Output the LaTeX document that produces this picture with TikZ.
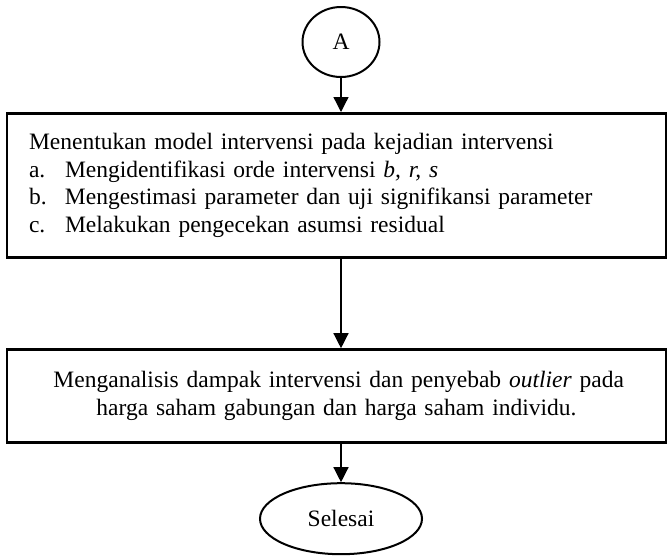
\documentclass[tikz,border=0pt]{standalone}
\usepackage{fontspec}
\setmainfont{Liberation Serif}
\usetikzlibrary{arrows.meta}
\usetikzlibrary{positioning}
\usetikzlibrary{shapes.geometric}

\tikzset{
  every node/.style={font=\fontsize{23.5}{27.7}\selectfont},
  terminal/.style={draw, ellipse, line width=2pt, inner sep=0pt},
  stepbox/.style={draw, rectangle, line width=2.7pt, minimum width=659pt, text width=615pt, inner sep=0pt},
  flow/.style={-{Triangle[length=15pt,width=15pt]}, line width=1.3pt}
}

\begin{document}
\begin{tikzpicture}[x=1pt, y=1pt]
  \useasboundingbox (0,0) rectangle (667,-555);

  \node (A) [terminal, minimum width=77pt, minimum height=70pt] at (341,-42) {A};

  \node (model) [stepbox, below=34pt of A, xshift=-4.5pt, minimum height=144pt, align=left] {%
    Menentukan model intervensi pada kejadian intervensi\\
    \makebox[36pt][l]{a.}Mengidentifikasi orde intervensi \textit{b, r, s}\\
    \makebox[36pt][l]{b.}Mengestimasi parameter dan uji signifikansi parameter\\
    \makebox[36pt][l]{c.}Melakukan pengecekan asumsi residual};

  \node (analisis) [stepbox, below=89.5pt of model, minimum height=93pt, align=center] {%
    \makebox[566pt][s]{Menganalisis dampak intervensi dan penyebab \textit{outlier} pada}\\
    harga saham gabungan dan harga saham individu.};

  \node (selesai) [terminal, below=38.3pt of analisis, xshift=4.5pt, minimum width=162pt, minimum height=71pt] {Selesai};

  \draw [flow] (A) -- (A |- model.north);
  \draw [flow] (model.south -| A) -- (analisis.north -| A);
  \draw [flow] (analisis.south -| A) -- (selesai);
\end{tikzpicture}
\end{document}
